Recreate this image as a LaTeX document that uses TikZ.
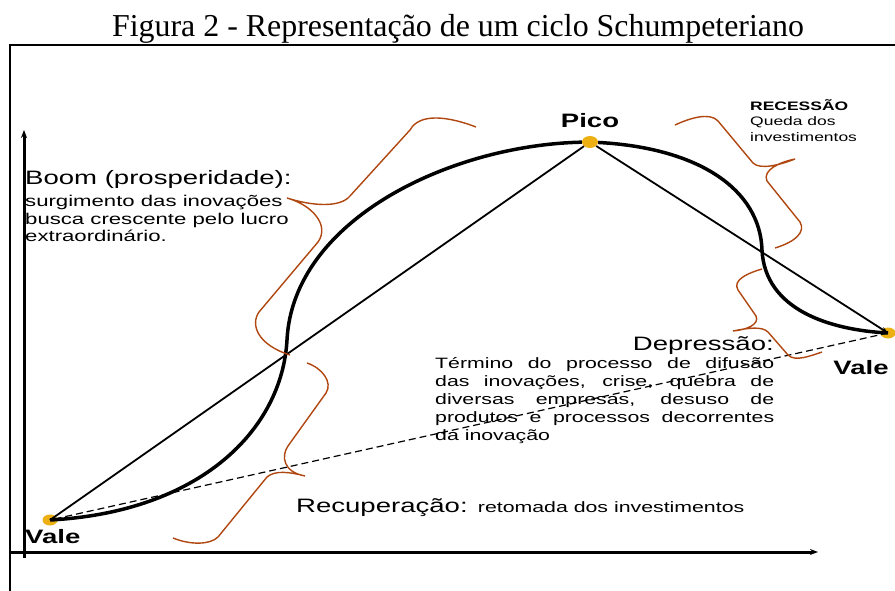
\documentclass[tikz,border=0pt]{standalone}
\usepackage{fontspec}
\usepackage{tikz}
\usetikzlibrary{positioning,shapes.geometric,arrows.meta}
\setmainfont{Liberation Serif}
\newfontfamily\diag[FakeStretch=1.42]{Liberation Sans}
\definecolor{dotcol}{RGB}{236,176,18}
\definecolor{bracecol}{RGB}{176,70,16}
\tikzset{
  dot/.style={ellipse,fill=dotcol,minimum width=15pt,minimum height=11pt,inner sep=0},
  wave/.style={line width=3.5pt},
  chord/.style={line width=1.8pt},
  trend/.style={line width=1.2pt,dash pattern=on 7pt off 4pt},
  brace/.style={draw=bracecol,line width=1.4pt},
  axis/.style={line width=3pt,-{Stealth[length=8pt,width=6pt]}},
  bigtxt/.style={font=\diag\fontsize{19.4}{22}\selectfont,inner sep=0},
  smalltxt/.style={font=\diag\fontsize{15.6}{17.6}\selectfont,inner sep=0,align=left},
  tinytxt/.style={font=\diag\fontsize{12.3}{15.5}\selectfont,inner sep=0,align=left},
}
\begin{document}
\begin{tikzpicture}[x=1pt,y=-1pt,node distance=8pt]
\useasboundingbox (0,0) rectangle (895,591);
\node[font=\fontsize{31.9}{36}\selectfont,anchor=base,inner sep=0] (title) at (458,37) {Figura 2 - Representação de um ciclo Schumpeteriano};
\draw[line width=2.5pt] (10,591) |- (895,45);
\draw[axis] (24,558) -- (24,130);
\draw[axis] (10,552) -- (818,552);
\node[dot] (vale1) at (50,520) {};
\node[dot,minimum width=16pt,minimum height=12pt] (pico) at (590,142) {};
\node[dot] (vale2) at (888,333) {};
\node[bigtxt,font=\diag\bfseries\fontsize{19.4}{22}\selectfont,above=of pico] (picolbl) {Pico};
\node[bigtxt,font=\diag\bfseries\fontsize{19.4}{22}\selectfont,anchor=base west] (vale1lbl) at (25,543) {Vale};
\node[bigtxt,font=\diag\bfseries\fontsize{19.4}{22}\selectfont,anchor=base] (vale2lbl) at (861,374) {Vale};
\draw[wave] (vale1.center) .. controls (200,512) and (282,430) .. (287,340) .. controls (293,220) and (450,145) .. (pico);
\draw[wave] (pico) .. controls (700,148) and (760,190) .. (762,250) .. controls (765,310) and (830,330) .. (vale2.center);
\draw[chord] (vale1.center) -- (pico);
\draw[chord,-{Stealth[length=7pt,width=5pt]}] (pico) -- (vale2.center);
\draw[trend] (vale2.center) -- (vale1.center);
\draw[brace] (476,127) .. controls (450,117) and (420,112) .. (410,130) -- (350,196) .. controls (340,208) and (312,206) .. (287,198)
  .. controls (312,205) and (330,225) .. (318,242) -- (259,312) .. controls (250,325) and (258,345) .. (290,355);
\draw[brace] (307,363) .. controls (322,368) and (333,382) .. (326,393) -- (288,446) .. controls (281,456) and (283,472) .. (305,476)
  .. controls (290,472) and (275,470) .. (267,477) -- (218,537) .. controls (210,545) and (190,545) .. (173,538);
\draw[brace] (675,125) .. controls (690,118) and (710,112) .. (718,121) -- (753,163) .. controls (760,170) and (780,165) .. (795,159)
  .. controls (780,162) and (762,170) .. (767,181) -- (800,222) .. controls (806,232) and (795,242) .. (775,248);
\draw[brace] (762,269) .. controls (748,273) and (732,280) .. (738,290) -- (756,316) .. controls (760,325) and (745,330) .. (733,331)
  .. controls (748,328) and (762,326) .. (768,332) -- (788,355) .. controls (795,362) and (810,356) .. (822,352);
\node[bigtxt,anchor=base west] (boom) at (25,185) {Boom (prosperidade):};
\node[smalltxt,anchor=north west] (boomtxt) at (25,195) {surgimento das inovações\\busca crescente pelo lucro\\extraordinário.};
\node[tinytxt,anchor=north west] (recess) at (750,99) {\bfseries RECESSÃO\\Queda dos\\investimentos};
\node[bigtxt,anchor=base east] (depr) at (774,350) {Depressão:};
\node[smalltxt,font=\diag\fontsize{15}{18}\selectfont,anchor=north west] (deprtxt) at (435,357) {\makebox[339pt][s]{Término do processo de difusão}\\\makebox[339pt][s]{das inovações, crise, quebra de}\\\makebox[339pt][s]{diversas empresas, desuso de}\\\makebox[339pt][s]{produtos e processos decorrentes}\\da inovação};
\node[bigtxt,anchor=base west] (recup) at (296,512) {Recuperação: {\fontsize{15}{18}\selectfont retomada dos investimentos}};
\end{tikzpicture}
\end{document}
